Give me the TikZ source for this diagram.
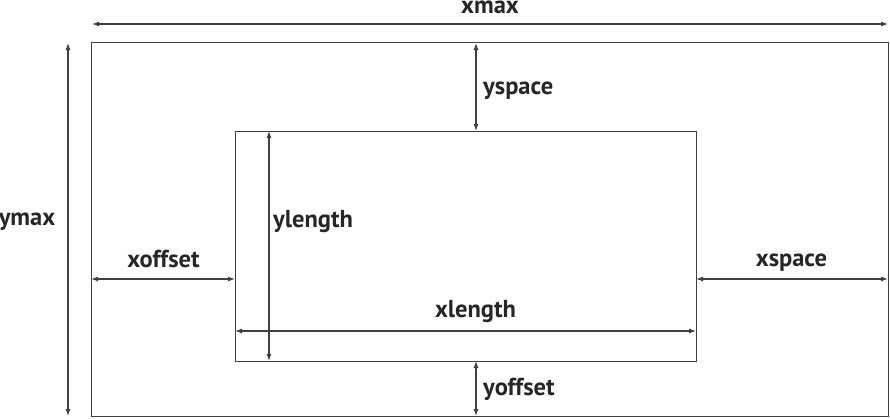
\documentclass[tikz,border=0pt]{standalone}
\usepackage{fontspec}
\setmainfont{PT Sans}
\usetikzlibrary{arrows.meta}
\begin{document}
\begin{tikzpicture}[x=1pt,y=-1pt,
  box/.style={draw=black!75,line width=1.3pt},
  dim/.style={draw=black!75,line width=1.1pt,{Latex[length=7pt,width=5pt]}-{Latex[length=7pt,width=5pt]}},
  lab/.style={font=\bfseries\fontsize{24.5}{28}\selectfont,text=black!85,inner sep=0pt}]
\useasboundingbox (0,0) rectangle (890,418);
% outer and inner rectangles
\node[box,minimum width=797pt,minimum height=374pt,inner sep=0pt,anchor=north west] (outer) at (91,42) {};
\node[box,minimum width=461pt,minimum height=230pt,inner sep=0pt,anchor=north west] (inner) at (235,131) {};
% dimension endpoints
\coordinate (xmaxL) at (92,24);  \coordinate (xmaxR) at (888,24);
\coordinate (ymaxT) at (68,43);  \coordinate (ymaxB) at (68,416);
\coordinate (yspT) at (476,43);  \coordinate (yspB) at (476,131);
\coordinate (ylT) at (269,131);  \coordinate (ylB) at (269,361);
\coordinate (xoL) at (91,279);   \coordinate (xoR) at (235,279);
\coordinate (xsL) at (696,279);  \coordinate (xsR) at (888,279);
\coordinate (xlL) at (235,331);  \coordinate (xlR) at (696,331);
\coordinate (yoT) at (476,361);  \coordinate (yoB) at (476,416);
\draw[dim] (xmaxL) -- (xmaxR);
\draw[dim] (ymaxT) -- (ymaxB);
\draw[dim] (yspT) -- (yspB);
\draw[dim] (ylT) -- (ylB);
\draw[dim] (xoL) -- (xoR);
\draw[dim] (xsL) -- (xsR);
\draw[dim] (xlL) -- (xlR);
\draw[dim] (yoT) -- (yoB);
% labels
\node[lab,anchor=base] (lxmax) at (490,13) {xmax};
\node[lab,anchor=base] (lymax) at (27,225) {ymax};
\node[lab,anchor=base west] (lysp) at (483,94) {yspace};
\node[lab,anchor=base west] (lyl) at (273,227) {ylength};
\node[lab,anchor=base] (lxo) at (163.5,267) {xoffset};
\node[lab,anchor=base] (lxs) at (791.5,266) {xspace};
\node[lab,anchor=base] (lxl) at (475.5,317) {xlength};
\node[lab,anchor=base west] (lyo) at (483,395) {yoffset};
\end{tikzpicture}
\end{document}
